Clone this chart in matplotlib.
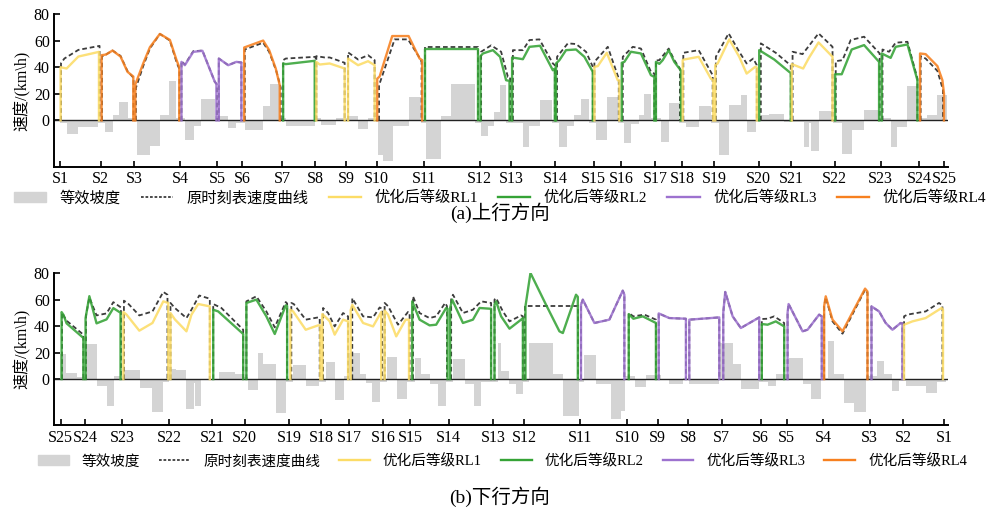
import numpy as np
import matplotlib
matplotlib.use('Agg')
import matplotlib.pyplot as plt
from matplotlib.patches import Patch
from matplotlib.lines import Line2D

# ---------------- 上行 (a) ----------------
up_names = ['S%d' % i for i in range(1, 26)]
up_pos = [0, 2.03, 3.7, 6.02, 7.87, 9.13, 11.12, 12.78, 14.33, 15.85, 18.22, 21.0, 22.58,
          24.8, 26.72, 28.08, 29.78, 31.13, 32.75, 34.97, 36.6, 38.77, 41.08, 43.0, 44.25]
up_level = [1, 4, 4, 3, 3, 4, 2, 1, 1, 4, 2, 2, 2, 2, 1, 2, 2, 1, 1, 2, 1, 2, 2, 4]

up_opt_x = [[0.03, 0.33, 0.92, 1.95], [2.08, 2.3, 2.63, 3.03, 3.38, 3.67],
            [3.77, 4.17, 4.5, 5.0, 5.5, 5.83, 5.97], [6.08, 6.25, 6.67, 7.13, 7.75, 7.83],
            [7.95, 8.42, 8.83, 9.08], [9.22, 10.17, 10.47, 10.8, 11.0], [11.17, 11.3, 12.75],
            [12.83, 13.0, 13.5, 14.25], [14.42, 14.92, 15.42, 15.75],
            [15.88, 16.0, 16.63, 17.45, 18.0, 18.13], [18.25, 20.92],
            [21.05, 21.17, 21.67, 22.03, 22.33, 22.5], [22.63, 23.17, 23.5, 24.03, 24.67, 24.77],
            [24.83, 25.0, 25.33, 25.83, 26.25, 26.67], [26.75, 26.92, 27.37, 27.92, 28.0],
            [28.12, 28.25, 28.58, 29.08, 29.58, 29.75], [29.83, 30.0, 30.17, 30.47, 30.75, 31.0, 31.08],
            [31.17, 31.25, 31.97, 32.58, 32.7], [32.8, 32.92, 33.5, 34.0, 34.37, 34.8, 34.88],
            [35.0, 35.75, 36.5, 36.58], [36.63, 37.2, 37.5, 37.97, 38.67],
            [38.8, 39.13, 39.63, 40.25, 41.0], [41.13, 41.58, 41.83, 42.42, 42.92],
            [43.05, 43.33, 43.92, 44.17, 44.25]]
up_opt_v = [[40, 39, 48, 51.5], [49, 49.5, 52.5, 48, 36.5, 33],
            [27, 43, 55, 65, 60.5, 45.5, 40], [44, 41.5, 51.5, 52.3, 29, 27.7],
            [46.5, 41.5, 44, 43.5], [54.8, 60, 52.8, 39, 26.4], [42.8, 42.3, 44.8],
            [44, 42, 42.8, 39], [46.5, 41.5, 44.5, 41.5],
            [31.4, 33, 63.4, 63.4, 46.5, 45.3], [53.3, 53.3],
            [48.3, 50.3, 52.8, 47.8, 30.2, 29.7], [47.3, 46, 55.3, 56.1, 37.7, 39],
            [42.8, 45.3, 52.8, 53.3, 47.8, 36.5], [40.3, 40.8, 50.8, 30.2, 30.2],
            [43.3, 44, 51.6, 50.3, 34, 32.7], [44, 42.5, 45.3, 52.8, 44, 39, 37.7],
            [45.3, 45.8, 47.8, 31.4, 30.2], [41.5, 42.8, 60.9, 47.8, 35.2, 40.3, 39.8],
            [52.8, 45.8, 36.5, 35.7], [42.3, 39, 47.3, 58.6, 47.8],
            [34.7, 34.7, 53.3, 56.6, 44], [50.3, 47, 55.3, 57.1, 30.2],
            [50.3, 49.8, 40.8, 30.2, 20]]
up_ref_x = [[0.05, 0.22, 0.92, 1.98], [2.1, 2.3, 2.63, 3.03, 3.38, 3.68],
            [3.8, 4.17, 4.5, 5.0, 5.5, 5.85, 5.98], [6.08, 6.25, 6.67, 7.13, 7.75, 7.85],
            [7.95, 8.42, 8.83, 9.08], [9.25, 10.17, 10.47, 10.83, 11.05], [11.17, 11.3, 12.8],
            [12.83, 13.25, 13.5, 14.25], [14.42, 14.92, 15.42, 15.75],
            [15.97, 16.75, 17.42, 17.97, 18.1], [18.25, 20.92],
            [21.08, 21.58, 22.08, 22.42, 22.53], [22.67, 23.17, 23.5, 24.0, 24.67, 24.77],
            [24.88, 25.42, 25.83, 26.33, 26.67], [26.75, 27.42, 27.97],
            [28.17, 28.67, 29.08, 29.58, 29.75], [29.83, 30.0, 30.47, 30.75, 31.03],
            [31.2, 31.97, 32.67], [32.83, 33.47, 34.0, 34.37, 34.7, 34.88],
            [35.08, 35.83, 36.5, 36.58], [36.67, 37.17, 37.97, 38.67],
            [38.83, 39.17, 39.58, 40.25, 41.03], [41.17, 41.5, 41.83, 42.42, 42.92],
            [43.08, 43.33, 43.92, 44.2]]
up_ref_v = [[43, 46.5, 53, 56], [48, 49.5, 52.5, 48.5, 37, 32],
            [24.5, 41, 54, 65, 60, 43, 38.5], [44.5, 42, 52, 52.5, 29, 27],
            [46.5, 41.5, 44, 43.5], [53.3, 58.4, 51.5, 37, 24.7], [45.3, 46.5, 47.8],
            [48.3, 47.3, 47.3, 43.3], [51.1, 45.8, 49, 45.3],
            [26.4, 60.9, 60.9, 47.8, 44], [55.3, 55.3],
            [51.6, 56.4, 51.6, 32.7, 32.7], [52.8, 52.8, 60.4, 60.9, 42.8, 41.5],
            [47.8, 57.9, 57.4, 51.6, 40.3], [44, 55.3, 31.4],
            [47.8, 55.3, 54, 36.5, 35.2], [45, 45.3, 54, 45.3, 39],
            [50.8, 52.8, 34], [47.8, 65.4, 51.6, 42.8, 46.5, 41.5],
            [57.9, 50.8, 42.3, 41], [51.6, 49.8, 65.4, 55.3],
            [44.5, 45.3, 60.4, 62.9, 50.3], [53.3, 51.6, 58.4, 59.1, 31.4],
            [48.3, 46.5, 37.2, 23]]

up_grad_edges = [0, 0.33, 0.92, 1.92, 2.25, 2.67, 2.97, 3.42, 3.87, 4.53,
                 5.0, 5.47, 5.83, 6.25, 6.72, 7.08, 7.75, 8.42, 8.83, 9.25,
                 10.17, 10.5, 11.0, 11.33, 12.75, 13.08, 13.8, 14.42, 14.92, 15.42,
                 15.92, 16.17, 16.67, 17.47, 18.08, 18.3, 19.08, 19.58, 20.78, 21.08,
                 21.42, 21.7, 22.03, 22.33, 23.17, 23.5, 24.03, 24.63, 24.97, 25.37,
                 25.75, 26.08, 26.5, 26.83, 27.37, 27.92, 28.25, 28.58, 28.97, 29.25,
                 29.58, 30.08, 30.5, 31.0, 31.33, 31.97, 32.58, 32.97, 33.5, 34.08,
                 34.37, 34.83, 35.08, 35.5, 36.25, 37.22, 37.5, 37.58, 37.97, 38.67,
                 39.13, 39.63, 40.25, 41.0, 41.58, 41.92, 42.42, 42.92, 43.42, 43.92, 44.42]
up_grad = [-2, -10, -5, -2, -9, 4, 13.5, 2, -26, -19,
           4, 29.5, 2, -15, -4.5, 16, 3, -5.5, -2, -7.5,
           11, 27.5, 2, -4.3, 2, -3.5, 2, 3, -6.3, 2,
           -25.7, -30.7, -4.5, 17.6, -2, -28.9, 3, 27.2, -2, -12,
           -4, 6.3, 26.4, -2, -20, -4, 15, -2, -20, -4,
           4, 16, -2, -15, 17.6, -2, -17, -3, 4, 20,
           2, -16, 13, -2, -5, 10.6, -2, -25.7, 11.3, 19.4,
           -8.8, 2, 4, 5, -1, -20, -2, -23, 7, -2,
           -25, -7, 7.5, 2, -20, -5, 26, 2, 4, 19]

# ---------------- 下行 (b) ----------------
dn_names = ['S%d' % i for i in range(25, 0, -1)]
dn_pos = [0.03, 1.25, 3.12, 5.47, 7.63, 9.25, 11.47, 13.08, 14.47, 16.17, 17.53, 19.45, 21.67,
          23.25, 26.03, 28.38, 29.92, 31.45, 33.12, 35.08, 36.37, 38.2, 40.53, 42.22, 44.25]
dn_level = [2, 2, 1, 1, 2, 2, 1, 1, 1, 1, 2, 2, 2, 2, 3, 2, 3, 3, 3, 2, 3, 4, 3, 1]

dn_opt_x = [[0.08, 0.17, 0.33, 1.17], [1.28, 1.47, 1.83, 2.33, 2.67, 3.03],
            [3.17, 3.33, 3.97, 4.63, 5.17, 5.42], [5.53, 5.75, 6.33, 6.58, 6.92, 7.5],
            [7.67, 7.92, 9.17], [9.33, 9.83, 10.33, 10.75, 11.3, 11.37],
            [11.53, 11.67, 12.3, 12.92, 13.03], [13.13, 13.42, 13.5, 13.75, 14.17, 14.42],
            [14.55, 14.63, 15.17, 15.67, 16.08], [16.25, 16.42, 16.83, 17.3, 17.47],
            [17.63, 18.0, 18.5, 18.83, 19.33, 19.4], [19.53, 19.63, 20.17, 20.67, 21.0, 21.58],
            [21.75, 21.83, 22.08, 22.5, 23.08, 23.17], [23.3, 23.55, 24.33, 25.0, 25.17, 25.83, 25.92],
            [26.08, 26.17, 26.75, 27.5, 28.17, 28.25], [28.47, 28.7, 29.17, 29.83],
            [29.97, 30.5, 31.33], [31.5, 33.0], [33.2, 33.3, 33.67, 34.08, 35.0],
            [35.13, 35.42, 35.83, 36.25], [36.42, 36.47, 37.17, 37.42, 38.0, 38.13],
            [38.25, 38.33, 38.67, 39.17, 40.3, 40.42], [40.62, 41.0, 41.33, 41.67, 42.08, 42.17],
            [42.25, 42.67, 43.33, 44.13, 44.2]]
dn_opt_v = [[50.5, 48.5, 42, 31], [46, 62.5, 42, 45, 53.5, 50],
            [50.6, 48.6, 36.5, 42.3, 58.6, 57.4], [49.8, 45, 36, 48.6, 56.6, 54.8],
            [52.3, 51, 34], [57.4, 59.9, 47.3, 34, 55.6, 55],
            [52.3, 51, 37.2, 40.5, 40.5], [49, 44.8, 43.5, 33.5, 44.8, 43.5],
            [52, 56, 42.3, 39.7, 50.6], [51.6, 48.6, 32.2, 44.8, 44.8],
            [58.6, 44.8, 40.5, 41, 53.6, 53], [53.6, 59.9, 42.3, 44.8, 53.6, 53],
            [56.1, 58.6, 47.3, 38, 44.8, 46], [55, 80, 56, 36, 34.7, 63.6, 62],
            [56.1, 59.9, 42.3, 44.8, 66.7, 63.6], [49, 45.5, 47.3, 42.3],
            [49.5, 46, 45.5], [44.8, 46.5], [50, 65.7, 47.3, 38.5, 46.5],
            [41.5, 41, 43.5, 39.7], [50, 56.6, 36, 37.2, 48.6, 47.3],
            [55, 62.4, 44.8, 36, 68.2, 66], [54.8, 51, 42.3, 37.2, 42.3, 42],
            [41, 43.5, 46, 53.6, 52.3]]
dn_ref_x = [[0.1, 0.33, 1.17], [1.3, 1.47, 1.83, 2.33, 2.67, 3.05],
            [3.2, 3.38, 3.97, 4.63, 5.17, 5.38], [5.53, 5.75, 6.33, 6.58, 6.97, 7.5],
            [7.67, 8.08, 9.17], [9.33, 9.83, 10.33, 10.75, 11.3, 11.37],
            [11.58, 11.7, 12.3, 12.92, 13.0], [13.17, 13.42, 13.75, 14.17, 14.42],
            [14.63, 15.17, 15.67, 16.0, 16.13], [16.25, 16.42, 16.92, 17.42, 17.5],
            [17.67, 18.0, 18.5, 18.83, 19.28, 19.37], [19.58, 19.67, 20.17, 20.67, 21.08, 21.58],
            [21.75, 21.83, 22.17, 22.5, 23.08, 23.17], [23.3, 25.92],
            [26.08, 26.17, 26.75, 27.5, 28.17, 28.25], [28.47, 28.7, 29.25, 29.83],
            [29.97, 30.5, 31.33], [31.5, 33.0], [33.2, 33.3, 33.67, 34.08, 35.0],
            [35.13, 35.42, 35.75, 36.25], [36.42, 36.47, 37.17, 37.42, 38.0, 38.13],
            [38.25, 38.33, 38.67, 39.17, 40.3, 40.42], [40.62, 41.0, 41.33, 41.67, 42.08, 42.17],
            [42.25, 42.42, 43.33, 44.0, 44.17]]
dn_ref_v = [[50, 44, 33.5], [48, 61.5, 48, 49.5, 58, 54],
            [59.1, 57.4, 48, 51, 65.7, 63.6], [57.4, 53.6, 46, 52.3, 63, 60.6],
            [56.6, 53.6, 37.2], [58.6, 62.4, 51, 39, 58.1, 57],
            [57.4, 56.6, 44.8, 46.5, 46], [53.6, 49.8, 39.7, 49.8, 47.3],
            [61, 47.3, 46.5, 54, 53], [57.4, 55, 41, 50.6, 50],
            [62.4, 49.8, 46, 47.3, 57.4, 55], [59.9, 63.6, 49.8, 52.3, 58.6, 57.4],
            [59.9, 61.1, 51, 43.5, 48, 47.3], [54.8, 54.8],
            [56.1, 59.9, 42.3, 44.8, 66.7, 63.6], [49.8, 47.3, 48.6, 44.8],
            [49.5, 46, 45.5], [44.8, 46.5], [50, 65.7, 47.3, 38.5, 46.5],
            [45.3, 45.5, 47.3, 42.3], [50, 56.6, 36, 37.2, 48.6, 47.3],
            [55, 61.6, 43.5, 34.2, 67.4, 65], [54.8, 51, 42.3, 37.2, 42.3, 42],
            [47.3, 48.6, 51, 57.4, 55.6]]

dn_grad_edges = [0, 0.28, 0.83, 1.25, 1.83, 2.37, 2.7, 3.13, 4.0, 4.63,
                 5.17, 5.47, 5.83, 6.3, 6.7, 6.78, 7.05, 7.95, 8.75, 9.17,
                 9.42, 9.92, 10.17, 10.8, 11.3, 11.67, 12.3, 12.97, 13.3, 13.75,
                 14.2, 14.42, 15.03, 15.3, 15.63, 16.0, 16.37, 16.88, 17.37, 17.75,
                 18.08, 18.53, 18.92, 19.33, 19.67, 20.25, 20.7, 21.08, 21.92, 22.08,
                 22.5, 22.83, 23.17, 23.5, 24.67, 25.17, 25.97, 26.25, 26.83, 27.58,
                 28.08, 28.28, 28.8, 29.33, 30.08, 30.5, 31.17, 31.5, 33.0, 33.67,
                 34.08, 35.0, 35.42, 35.83, 36.5, 37.17, 37.58, 38.08, 38.42, 38.75,
                 39.25, 39.75, 40.37, 40.92, 41.25, 41.67, 42.0, 42.33, 43.33, 43.92, 44.33]
dn_grad = [18.6, 4.5, 1.5, 26.4, -5.5, -20.6, 2, 7, -6.8, -24.6,
           -2, 7.5, 6.5, -22.6, -3, -20.6, -1, 5.5, 4, 1.5,
           -8, 19.4, 11, -25.7, -2, 10.6, -5, -2, 13, -16,
           2, 20, 4, -3, -17, -2, 17, -15, -2, 16,
           4, -4, -20, -2, 15, -4, -20, -2, 27, 6,
           -4, -11, -2, 27, 3.5, -28, -2, 18, -4, -30,
           -24, 2, -6, 3, -1, -3.5, 1, -3.5, 27, 11,
           -7.5, -2, -5, 3.5, 16, -4, -15, 1, 29, 4,
           -18, -25, 2, 13.5, 4, -9, -1.5, -5, -10.5, -2]

level_colors = {1: '#fcdc66', 2: '#35a336', 3: '#9d72cf', 4: '#f7801f'}
level_labels = ['优化后等级RL1', '优化后等级RL2', '优化后等级RL3', '优化后等级RL4']

plt.rcParams['font.family'] = ['Liberation Serif', 'Noto Sans CJK SC', 'DejaVu Sans']
plt.rcParams['axes.unicode_minus'] = False

fig = plt.figure(figsize=(10, 5.17), dpi=100)
ax1 = fig.add_axes([0.054, 0.677, 0.894, 0.296])
ax2 = fig.add_axes([0.054, 0.177, 0.894, 0.295])


def draw(ax, names, pos, levels, ox, ov, rx, rv, edges, grad):
    ax.bar(edges[:-1], grad, width=np.diff(edges), align='edge',
           color='#d4d4d4', lw=0, zorder=1)
    ax.axhline(0, color='#222222', lw=1.0, zorder=2)
    # 原时刻表曲线在下, 优化曲线在上
    for x, v in zip(rx, rv):
        ax.plot([x[0]] + x + [x[-1]], [0] + v + [0], color='#3c3c3c',
                lw=1.3, dashes=(2.6, 1.6), zorder=3)
    for lv, x, v in zip(levels, ox, ov):
        ax.plot([x[0]] + x + [x[-1]], [0] + v + [0], color=level_colors[lv],
                lw=1.7, alpha=0.88, zorder=4)
    ax.set_xlim(-0.3, 44.45)
    ax.set_ylim(-35, 80)
    ax.set_yticks([0, 20, 40, 60, 80])
    ax.set_xticks(pos)
    ax.set_xticklabels(names)
    for s in ['top', 'right']:
        ax.spines[s].set_visible(False)
    for s in ['left', 'bottom']:
        ax.spines[s].set_linewidth(1.4)
    ax.tick_params(direction='in', length=4, width=1.2, labelsize=11.5, pad=3)
    ax.set_ylabel('速度/(km\\h)', fontsize=11.5, labelpad=2)


draw(ax1, up_names, up_pos, up_level, up_opt_x, up_opt_v, up_ref_x, up_ref_v,
     up_grad_edges, up_grad)
draw(ax2, dn_names, dn_pos, dn_level, dn_opt_x, dn_opt_v, dn_ref_x, dn_ref_v,
     dn_grad_edges, dn_grad)

handles = [Patch(color='#d4d4d4'),
           Line2D([], [], color='#3c3c3c', lw=1.3, dashes=(1.5, 1.0))]
handles += [Line2D([], [], color=level_colors[k], lw=1.7) for k in [1, 2, 3, 4]]
labels = ['等效坡度', '原时刻表速度曲线'] + level_labels

fig.legend(handles, labels, loc='center', ncol=6, mode='expand',
           bbox_to_anchor=(0.0, 0.607, 1.0, 0.02), frameon=False,
           fontsize=11, handlelength=2.1, handletextpad=0.9)
fig.legend(handles, labels, loc='center', ncol=6, mode='expand',
           bbox_to_anchor=(0.025, 0.098, 0.955, 0.02), frameon=False,
           fontsize=10.5, handlelength=2.1, handletextpad=0.9)

fig.text(0.5, 0.588, '(a)上行方向', ha='center', va='center', fontsize=14)
fig.text(0.5, 0.039, '(b)下行方向', ha='center', va='center', fontsize=14)

fig.savefig('out.png', dpi=100)
